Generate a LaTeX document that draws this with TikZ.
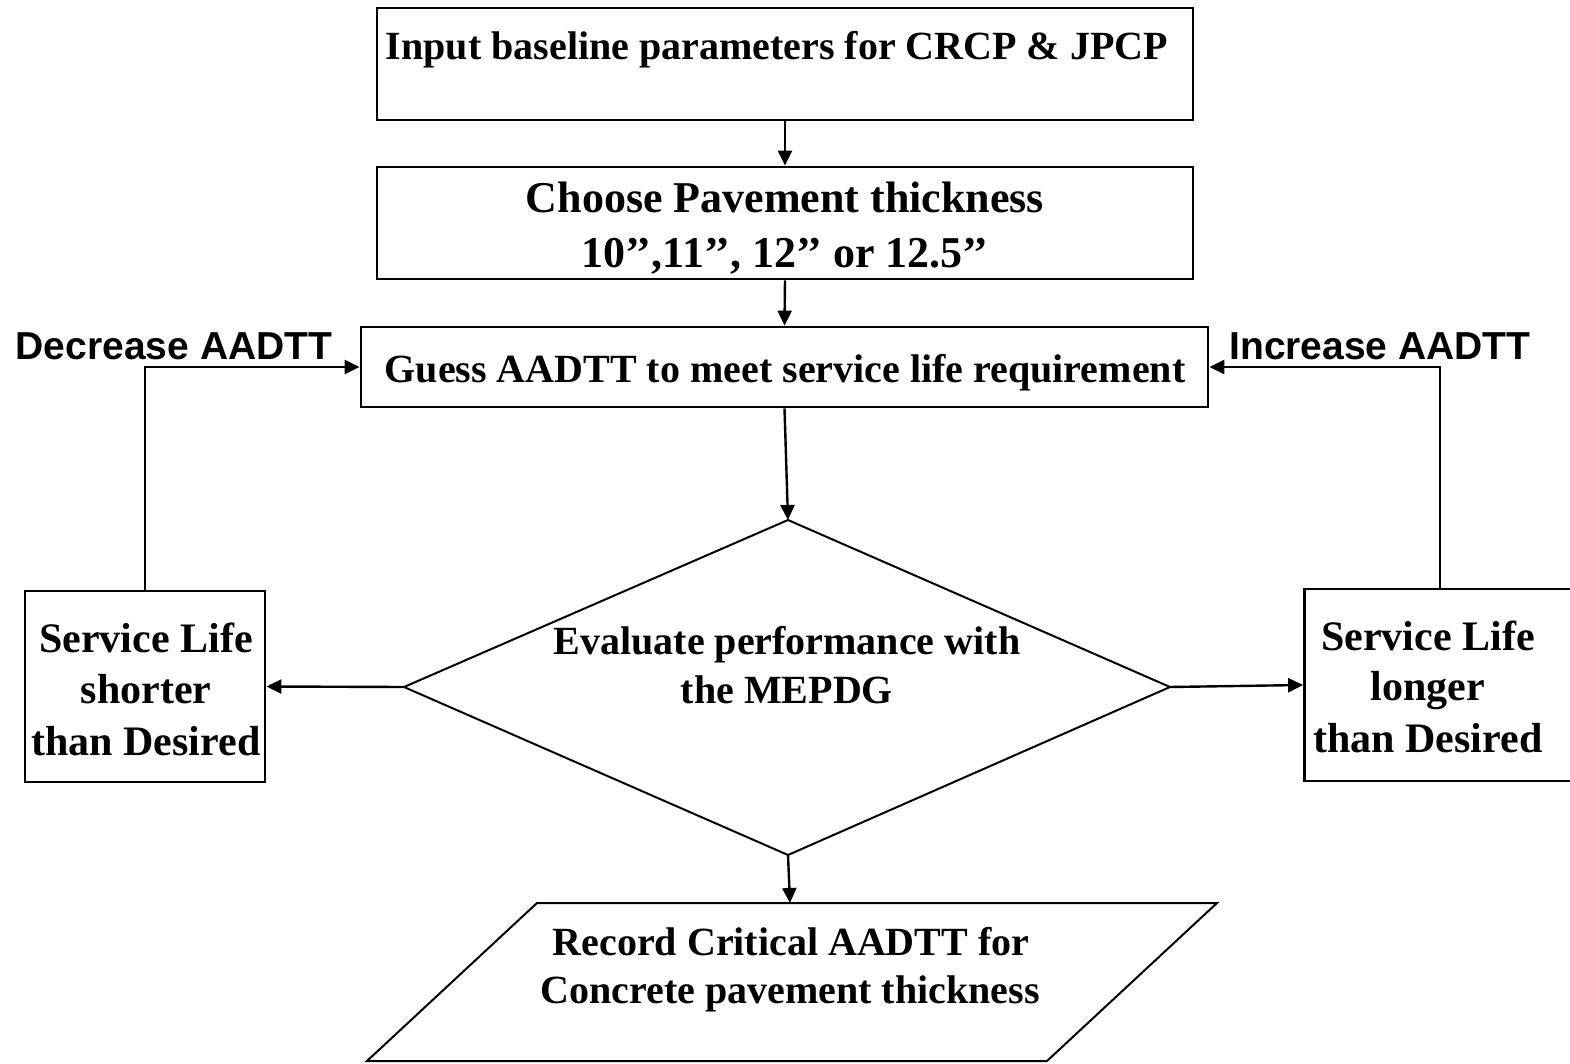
\documentclass[tikz,border=0pt]{standalone}
\usepackage{fontspec}
\setmainfont{Liberation Serif}
\newfontfamily\sansfam{Liberation Sans}
\usetikzlibrary{arrows.meta}
\begin{document}
\begin{tikzpicture}[x=0.5pt,y=-0.5pt,
  box/.style={draw,rectangle,line width=1.4pt,inner sep=0pt},
  conn/.style={line width=1.2pt,-{Triangle[length=7.5pt,width=7pt]}},
  outline/.style={line width=1pt,line join=miter},
  txt/.style={anchor=base,inner sep=0pt,font=\bfseries\fontsize{20pt}{24pt}\selectfont},
  bigtxt/.style={txt,font=\bfseries\fontsize{22pt}{26pt}\selectfont},
  sidetxt/.style={txt,font=\bfseries\fontsize{21pt}{25pt}\selectfont},
  lbl/.style={anchor=base,inner sep=0pt,font=\sansfam\bfseries\fontsize{19.5pt}{23pt}\selectfont}]
\useasboundingbox (0,0) rectangle (1570,1064);

% process boxes
\node[box,minimum width=408pt,minimum height=56pt] (b1) at (785,64) {};
\node[box,minimum width=408pt,minimum height=56pt] (b2) at (785,223) {};
\node[box,minimum width=423.5pt,minimum height=40pt] (b3) at (784.5,367) {};
\node[box,minimum width=120pt,minimum height=95.5pt] (lbox) at (145,686.5) {};
\node[box,minimum width=135.5pt,minimum height=96pt] (rbox) at (1440,685) {};

% decision diamond
\coordinate (dT) at (788,520);
\coordinate (dR) at (1170,687);
\coordinate (dB) at (788,855);
\coordinate (dL) at (404,687);
\draw[outline] (dT) -- (dR) -- (dB) -- (dL) -- cycle;

% output parallelogram
\coordinate (pTL) at (537,903);
\coordinate (pTR) at (1217,903);
\coordinate (pBR) at (1047,1061);
\coordinate (pBL) at (367,1061);
\coordinate (pIn) at (790,903);
\draw[outline] (pTL) -- (pTR) -- (pBR) -- (pBL) -- cycle;

% texts
\node[txt] (t1) at (777,60) {Input baseline parameters for CRCP \& JPCP};
\node[bigtxt] (t2a) at (785,213) {Choose Pavement thickness};
\node[bigtxt] (t2b) at (785,268) {10’’,11’’, 12’’ or 12.5’’};
\node[txt] (t3) at (785,383) {Guess AADTT to meet service life requirement};
\node[txt] (tda) at (787,654) {Evaluate performance with};
\node[txt] (tdb) at (787,703) {the MEPDG};
\node[sidetxt] (tla) at (146,652) {Service Life};
\node[sidetxt] (tlb) at (146,703) {shorter};
\node[sidetxt] (tlc) at (146,755) {than Desired};
\node[sidetxt] (tra) at (1428,650) {Service Life};
\node[sidetxt] (trb) at (1428,700) {longer};
\node[sidetxt] (trc) at (1428,752) {than Desired};
\node[txt] (tpa) at (791,955) {Record Critical AADTT for};
\node[txt] (tpb) at (790,1003) {Concrete pavement thickness};
\node[lbl] (dec) at (174,360) {Decrease AADTT};
\node[lbl] (inc) at (1380,360) {Increase AADTT};

% connectors
\draw[conn] (b1.south) -- (b2.north);
\draw[conn] (b2.south) -- (b3.north);
\draw[conn] (b3.south) -- (dT);
\draw[conn] (dL) -- (lbox.east);
\draw[conn] (dR) -- (rbox.west);
\draw[conn] (dB) -- (pIn);
\draw[conn] (lbox.north) |- (b3.west);
\draw[conn] (rbox.north) |- (b3.east);
\end{tikzpicture}
\end{document}
